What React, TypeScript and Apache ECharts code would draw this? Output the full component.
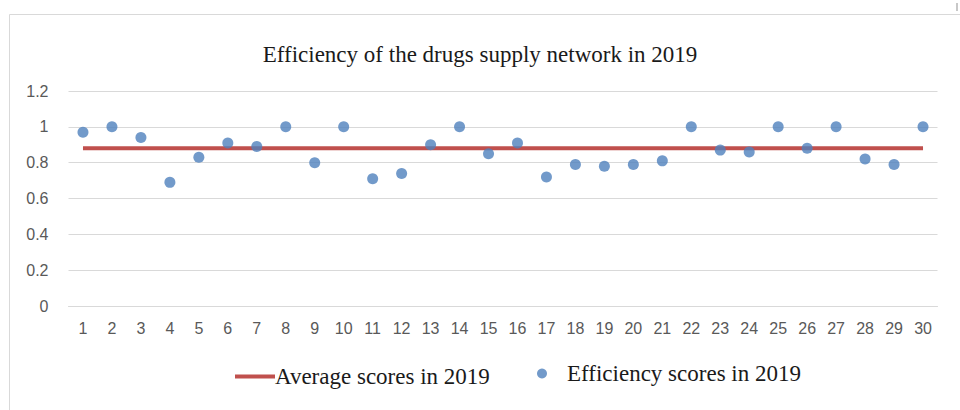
import React, { useEffect, useRef } from "react";
import * as echarts from "echarts";

const categories = Array.from({ length: 30 }, (_, i) => String(i + 1));
const efficiencyScores = [
  0.97, 1.0, 0.94, 0.69, 0.83, 0.91, 0.89, 1.0, 0.8, 1.0,
  0.71, 0.74, 0.9, 1.0, 0.85, 0.91, 0.72, 0.79, 0.78, 0.79,
  0.81, 1.0, 0.87, 0.86, 1.0, 0.88, 1.0, 0.82, 0.79, 1.0,
];
const averageScore = 0.88;
const averageScores = categories.map(() => averageScore);

const titleText = "Efficiency of the drugs supply network in 2019";
const avgName = "Average scores in 2019";
const effName = "Efficiency scores in 2019";

export default function App() {
  const ref = useRef<HTMLDivElement>(null);
  useEffect(() => {
    if (!ref.current) return;
    const chart = echarts.init(ref.current, null, { renderer: "svg" });
    const serif = "'Liberation Serif', 'Times New Roman', serif";
    const sans = "'Liberation Sans', Arial, sans-serif";
    chart.setOption({
      animation: false,
      backgroundColor: "#ffffff",
      title: {
        text: titleText,
        left: "center",
        top: 38,
        textStyle: { fontFamily: serif, fontSize: 23, fontWeight: "normal", color: "#1a1a1a" },
      },
      graphic: [
        {
          type: "rect",
          shape: { x: 9.5, y: 14.5, width: 960, height: 410 },
          style: { fill: "none", stroke: "#d9d9d9", lineWidth: 1 },
          silent: true,
        },
        {
          type: "rect",
          shape: { x: 956, y: 3, width: 2, height: 8 },
          style: { fill: "#c8c8c8" },
          silent: true,
        },
      ],
      legend: [
        {
          data: [{ name: avgName, icon: "rect" }],
          left: 230,
          top: 360,
          itemWidth: 40,
          itemHeight: 4,
          itemGap: 0,
          textStyle: { fontFamily: serif, fontSize: 23, color: "#1a1a1a", padding: [0, 0, 0, -5] },
        },
        {
          data: [{ name: effName, icon: "circle" }],
          left: 532,
          top: 357,
          itemWidth: 10,
          itemHeight: 10,
          textStyle: { fontFamily: serif, fontSize: 23, color: "#1a1a1a", padding: [0, 0, 10, 15] },
        },
      ],
      grid: { left: 68.5, right: 22.5, top: 91, bottom: 104, containLabel: false },
      xAxis: {
        type: "category",
        data: categories,
        boundaryGap: true,
        axisLine: { show: true, lineStyle: { color: "#d9d9d9", width: 1 } },
        axisTick: { show: false },
        axisLabel: { interval: 0, fontFamily: sans, fontSize: 16, color: "#595959", margin: 14 },
      },
      yAxis: {
        type: "value",
        min: 0,
        max: 1.2,
        interval: 0.2,
        axisLine: { show: false },
        axisTick: { show: false },
        splitLine: { lineStyle: { color: "#d9d9d9", width: 1 } },
        axisLabel: { fontFamily: sans, fontSize: 16, color: "#595959", margin: 20 },
      },
      series: [
        {
          name: avgName,
          type: "line",
          data: averageScores,
          symbol: "none",
          lineStyle: { color: "#C0504D", width: 4 },
          itemStyle: { color: "#C0504D" },
          z: 2,
        },
        {
          name: effName,
          type: "scatter",
          data: efficiencyScores,
          symbol: "circle",
          symbolSize: 11,
          itemStyle: { color: "#4F81BD" },
          z: 3,
        },
      ],
    });
    return () => chart.dispose();
  }, []);
  return (
    <div
      ref={ref}
      style={{ position: "absolute", left: 0, top: 0, width: 960, height: 410 }}
    />
  );
}
